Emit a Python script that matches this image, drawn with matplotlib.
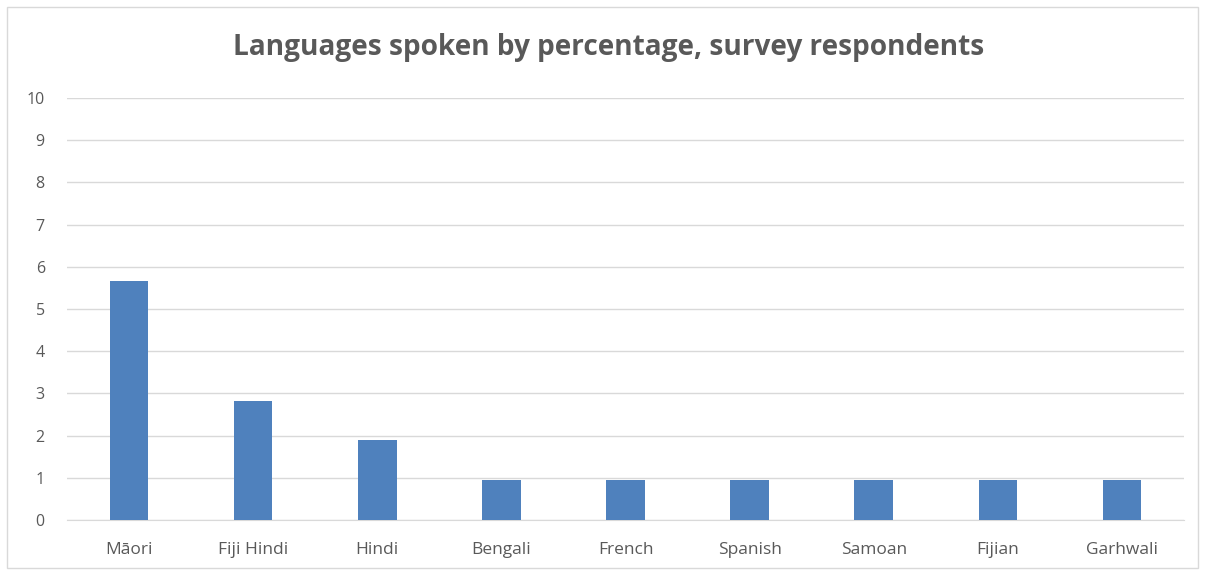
import matplotlib.pyplot as plt
from matplotlib.patches import Rectangle

# Share of survey respondents speaking each language (%)
languages = ["Māori", "Fiji Hindi", "Hindi", "Bengali", "French",
             "Spanish", "Samoan", "Fijian", "Garhwali"]
percentages = [5.66, 2.83, 1.89, 0.94, 0.94, 0.94, 0.94, 0.94, 0.94]
y_ticks = list(range(0, 11))

plt.rcParams['font.family'] = ['Open Sans', 'DejaVu Sans']

fig = plt.figure(figsize=(12.05, 5.72), dpi=100)
ax = fig.add_axes([67 / 1205, 1 - 520 / 572, (1184 - 67) / 1205, (520 - 98) / 572])

ax.bar(range(len(languages)), percentages, width=0.31, color="#4f81bd", zorder=3)

ax.set_xlim(-0.5, len(languages) - 0.5)
ax.set_ylim(0, 10)
ax.set_yticks(y_ticks)
ax.set_xticks(range(len(languages)))
ax.set_xticklabels(languages)
ax.tick_params(axis="both", length=0, colors="#595959")
ax.tick_params(axis="x", pad=15.5, labelsize=12.5)
ax.tick_params(axis="y", pad=16, labelsize=11.5)
for label in ax.get_yticklabels():
    label.set_horizontalalignment("right")

ax.grid(axis="y", color="#d9d9d9", linewidth=1, zorder=0)
for side in ["top", "right", "left"]:
    ax.spines[side].set_visible(False)
ax.spines["bottom"].set_color("#d9d9d9")

fig.suptitle("Languages spoken by percentage, survey respondents",
             x=609 / 1205, y=1 - 47 / 572, va="center",
             fontsize=20.2, fontweight="bold", color="#595959")

# light outline round the chart area
fig.patches.append(Rectangle((7 / 1205, 4 / 572), 1191 / 1205, 561 / 572,
                             transform=fig.transFigure, fill=False,
                             edgecolor="#d9d9d9", linewidth=1))

fig.savefig("out.png", dpi=100)
